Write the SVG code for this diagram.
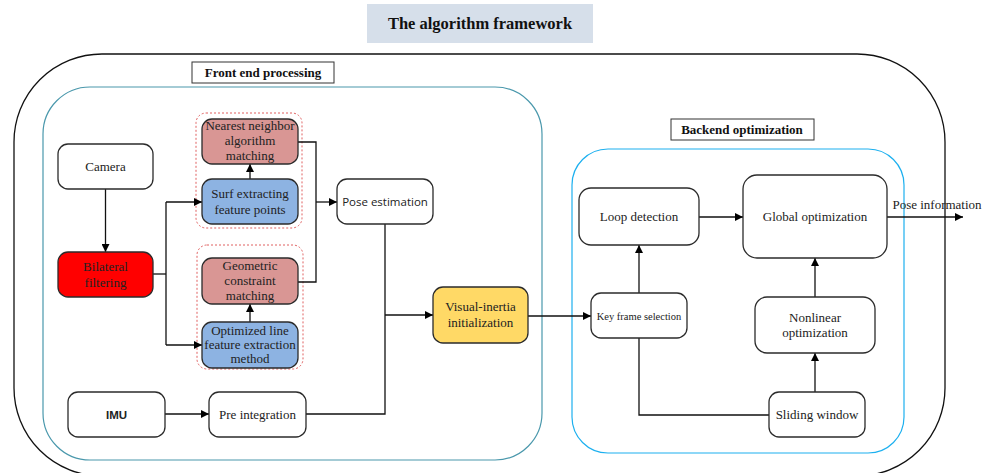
<svg xmlns="http://www.w3.org/2000/svg" width="987" height="473" viewBox="0 0 987 473">
  <defs>
    <marker id="arr" viewBox="0 0 10 10" refX="10" refY="5" markerWidth="8" markerHeight="8" markerUnits="userSpaceOnUse" orient="auto">
      <path d="M0,0 L10,5 L0,10 z" fill="#000"/>
    </marker>
    <style>
      .node { stroke: #2b2b2b; stroke-width: 1.3; }
      .t { font-family: "Liberation Serif", "Times New Roman", serif; font-size: 13px; fill: #222; text-anchor: middle; }
      .ts { font-family: "Open Sans", "Liberation Sans", sans-serif; font-size: 11.5px; fill: #222; text-anchor: middle; }
      .lbl { font-family: "Liberation Serif", "Times New Roman", serif; font-size: 13px; font-weight: bold; fill: #111; text-anchor: middle; }
      .conn { fill: none; stroke: #111; stroke-width: 1.3; }
      .grp { fill: none; stroke: #e06060; stroke-width: 1; stroke-dasharray: 2 2; }
    </style>
  </defs>

  <rect width="987" height="473" fill="#fff"/>

  <!-- title -->
  <g id="title">
    <rect x="367" y="4" width="226" height="39" fill="#d6dfea"/>
    <text x="480" y="29" class="lbl" style="font-size:16.5px">The algorithm framework</text>
  </g>

  <!-- frames -->
  <rect x="14" y="54" width="931" height="422" rx="88" ry="88" fill="none" stroke="#111" stroke-width="1.3"/>
  <rect x="43" y="87" width="499" height="373" rx="47" ry="47" fill="none" stroke="#4a98ac" stroke-width="1.2"/>
  <rect x="572" y="149" width="332" height="304" rx="36" ry="36" fill="none" stroke="#1db0ef" stroke-width="1.2"/>

  <g id="front-label">
    <rect x="192" y="62" width="142" height="21" fill="#fff" stroke="#333" stroke-width="1"/>
    <text x="263" y="77" class="lbl">Front end processing</text>
  </g>
  <g id="back-label">
    <rect x="671" y="119" width="143" height="21" fill="#fff" stroke="#333" stroke-width="1"/>
    <text x="742" y="134" class="lbl">Backend optimization</text>
  </g>

  <!-- dotted groups -->
  <rect class="grp" x="196" y="113" width="106" height="115" rx="10"/>
  <rect class="grp" x="197" y="245" width="106" height="124" rx="10"/>

  <!-- connectors -->
  <g id="connectors">
    <path class="conn" d="M105.5,189 V252" marker-end="url(#arr)"/>
    <path class="conn" d="M153,274 H166"/>
    <path class="conn" d="M166,202 V345"/>
    <path class="conn" d="M166,202 H202" marker-end="url(#arr)"/>
    <path class="conn" d="M166,345 H202" marker-end="url(#arr)"/>
    <path class="conn" d="M250,179 V164" marker-end="url(#arr)"/>
    <path class="conn" d="M250,322 V304" marker-end="url(#arr)"/>
    <path class="conn" d="M298,142 H316 V282 H298"/>
    <path class="conn" d="M316,202 H337" marker-end="url(#arr)"/>
    <path class="conn" d="M385,224 V414 H306"/>
    <path class="conn" d="M385,315 H433" marker-end="url(#arr)"/>
    <path class="conn" d="M165,414 H209" marker-end="url(#arr)"/>
    <path class="conn" d="M528,316 H591" marker-end="url(#arr)"/>
    <path class="conn" d="M639,293 V245" marker-end="url(#arr)"/>
    <path class="conn" d="M699,217 H743" marker-end="url(#arr)"/>
    <path class="conn" d="M887,217 H963" marker-end="url(#arr)"/>
    <path class="conn" d="M815,297 V258" marker-end="url(#arr)"/>
    <path class="conn" d="M815,392 V353" marker-end="url(#arr)"/>
    <path class="conn" d="M769,415 H639 V338"/>
    <text x="937" y="209" class="t">Pose information</text>
  </g>

  <!-- nodes: front end -->
  <g id="camera">
    <rect class="node" x="58" y="144" width="95" height="45" rx="10" fill="#fff"/>
    <text x="105.5" y="171" class="t">Camera</text>
  </g>
  <g id="bilateral">
    <rect class="node" x="58" y="252" width="95" height="45" rx="10" fill="#ff0000"/>
    <text x="105.5" y="271" class="t">Bilateral</text>
    <text x="105.5" y="287" class="t">filtering</text>
  </g>
  <g id="nearest">
    <rect class="node" x="202" y="119" width="96" height="45" rx="10" fill="#d99694"/>
    <text x="250" y="130" class="t">Nearest neighbor</text>
    <text x="250" y="145" class="t">algorithm</text>
    <text x="250" y="160" class="t">matching</text>
  </g>
  <g id="surf">
    <rect class="node" x="202" y="179" width="96" height="45" rx="10" fill="#8db3e2"/>
    <text x="250" y="198" class="t">Surf extracting</text>
    <text x="250" y="214" class="t">feature points</text>
  </g>
  <g id="geometric">
    <rect class="node" x="202" y="258" width="96" height="46" rx="10" fill="#d99694"/>
    <text x="250" y="270" class="t">Geometric</text>
    <text x="250" y="285" class="t">constraint</text>
    <text x="250" y="300" class="t">matching</text>
  </g>
  <g id="optimized">
    <rect class="node" x="202" y="322" width="96" height="46" rx="10" fill="#8db3e2"/>
    <text x="250" y="335" class="t">Optimized line</text>
    <text x="250" y="349" class="t">feature extraction</text>
    <text x="250" y="363" class="t">method</text>
  </g>
  <g id="pose">
    <rect class="node" x="337" y="179" width="96" height="45" rx="10" fill="#fff"/>
    <text x="385" y="206" class="ts">Pose estimation</text>
  </g>
  <g id="visual">
    <rect class="node" x="433" y="287" width="95" height="56" rx="10" fill="#ffd966"/>
    <text x="480.5" y="311" class="t">Visual-inertia</text>
    <text x="480.5" y="327" class="t">initialization</text>
  </g>
  <g id="imu">
    <rect class="node" x="68" y="392" width="97" height="45" rx="10" fill="#fff"/>
    <text x="116.5" y="419" class="ts" style="font-family:'Liberation Sans',Arial,sans-serif;font-weight:bold;font-size:11.5px">IMU</text>
  </g>
  <g id="preint">
    <rect class="node" x="209" y="392" width="97" height="45" rx="10" fill="#fff"/>
    <text x="257.5" y="419" class="t">Pre integration</text>
  </g>

  <!-- nodes: backend -->
  <g id="loop">
    <rect class="node" x="579" y="188" width="120" height="57" rx="12" fill="#fff"/>
    <text x="639" y="221" class="t">Loop detection</text>
  </g>
  <g id="global">
    <rect class="node" x="743" y="175" width="144" height="83" rx="14" fill="#fff"/>
    <text x="815" y="221" class="t">Global optimization</text>
  </g>
  <g id="keyframe">
    <rect class="node" x="591" y="293" width="96" height="45" rx="10" fill="#fff"/>
    <text x="639" y="320" class="t" style="font-size:10.5px">Key frame selection</text>
  </g>
  <g id="nonlinear">
    <rect class="node" x="755" y="297" width="120" height="56" rx="12" fill="#fff"/>
    <text x="815" y="322" class="t">Nonlinear</text>
    <text x="815" y="337" class="t">optimization</text>
  </g>
  <g id="sliding">
    <rect class="node" x="769" y="392" width="96" height="45" rx="10" fill="#fff"/>
    <text x="817" y="419" class="t">Sliding window</text>
  </g>
</svg>
